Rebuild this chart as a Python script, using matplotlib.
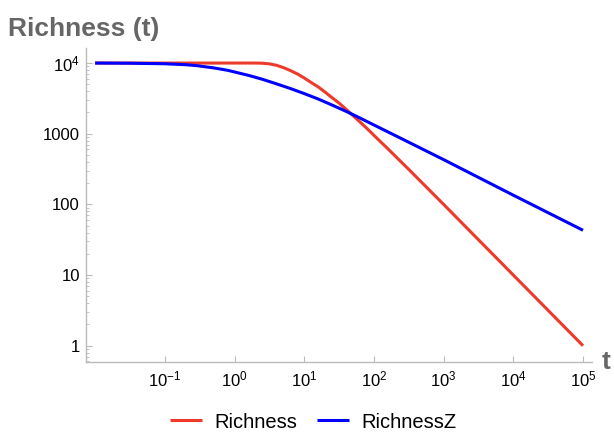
import matplotlib
matplotlib.use("Agg")
import matplotlib.pyplot as plt
from matplotlib.ticker import FixedLocator, FixedFormatter, LogLocator, NullLocator

plt.rcParams['font.family'] = ['Liberation Sans', 'DejaVu Sans']
plt.rcParams['mathtext.fontset'] = 'custom'
plt.rcParams['mathtext.rm'] = 'Liberation Sans'

# Richness curve, sampled along t
t_rich = [0.01, 0.1, 0.3, 1, 2, 2.5, 3.2, 4, 5, 6.3, 8, 10, 12.5, 16, 20, 25, 32, 40, 50, 63,
          80, 100, 160, 320, 1000, 1e4, 1e5]
richness = [10000, 10000, 10000, 10000, 10000, 9950, 9730, 9290, 8650, 7850, 7000, 6150, 5330,
            4570, 3870, 3240, 2690, 2210, 1810, 1470, 1180, 950, 607, 309, 100, 10, 1]

# RichnessZ curve
t_richz = [0.01, 0.03, 0.1, 0.2, 0.3, 0.5, 0.8, 1, 1.6, 2.5, 4, 6.3, 10, 16, 25, 40, 63, 100,
           250, 1000, 1e4, 1e5]
richness_z = [10000, 9950, 9770, 9480, 9140, 8550, 7890, 7480, 6680, 5900, 5080, 4370, 3700,
              3090, 2550, 2070, 1670, 1330, 850, 430, 135, 43]

x_ticks = [1e-1, 1e0, 1e1, 1e2, 1e3, 1e4, 1e5]
x_labels = [r'$\mathdefault{10^{-1}}$', r'$\mathdefault{10^{0}}$', r'$\mathdefault{10^{1}}$',
            r'$\mathdefault{10^{2}}$', r'$\mathdefault{10^{3}}$', r'$\mathdefault{10^{4}}$',
            r'$\mathdefault{10^{5}}$']
y_ticks = [1, 10, 100, 1000, 1e4]
y_labels = ['1', '10', '100', '1000', r'$\mathdefault{10^{4}}$']

fig = plt.figure(figsize=(6.14, 4.36), dpi=100)
ax = fig.add_axes([85.5 / 614, 1 - 361.5 / 436, (592 - 85.5) / 614, (361.5 - 48) / 436])

ax.plot(t_rich, richness, color='#ee3a2a', lw=2.2, label='Richness', solid_capstyle='butt')
ax.plot(t_richz, richness_z, color='#0000ff', lw=2.2, label='RichnessZ', solid_capstyle='butt')

ax.set_xscale('log')
ax.set_yscale('log')
ax.set_xlim(10 ** -2.138, 10 ** 5.129)
ax.set_ylim(10 ** -0.223, 10 ** 4.213)

ax.xaxis.set_major_locator(FixedLocator(x_ticks))
ax.xaxis.set_major_formatter(FixedFormatter(x_labels))
ax.xaxis.set_minor_locator(NullLocator())
ax.yaxis.set_major_locator(FixedLocator(y_ticks))
ax.yaxis.set_major_formatter(FixedFormatter(y_labels))
ax.yaxis.set_minor_locator(LogLocator(base=10, subs=range(2, 10)))

for side in ['top', 'right']:
    ax.spines[side].set_visible(False)
for side in ['left', 'bottom']:
    ax.spines[side].set_color('#bbbbbb')
    ax.spines[side].set_linewidth(1)

ax.tick_params(axis='both', which='major', direction='in', length=4, width=0.8,
               color='#bbbbbb', labelsize=12, labelcolor='black')
ax.tick_params(axis='y', which='minor', direction='in', length=2.2, width=0.6, color='#bbbbbb')
ax.tick_params(axis='y', which='major', pad=4)
ax.tick_params(axis='x', which='major', pad=6)

# titles drawn as plain figure text
fig.text(8.5 / 614, 1 - 36 / 436, 'Richness (t)', fontsize=19, fontweight='bold',
         color='#666666', ha='left', va='baseline')
fig.text(602 / 614, 1 - 369 / 436, 't', fontsize=19, fontweight='bold',
         color='#666666', ha='left', va='baseline')

fig.legend(loc='center', bbox_to_anchor=(313 / 614, 1 - 422 / 436), ncol=2, frameon=False,
           fontsize=14.5, handlelength=1.6, handletextpad=0.6, columnspacing=1.0)

fig.savefig('out.png', dpi=100)
